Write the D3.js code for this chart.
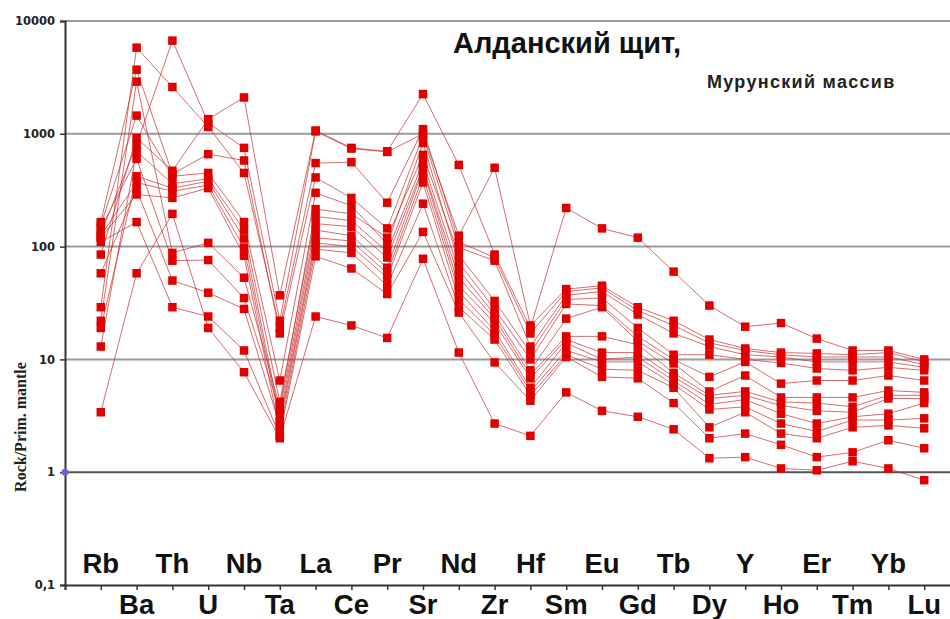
<!DOCTYPE html>
<html>
<head>
<meta charset="utf-8">
<script src="https://cdn.jsdelivr.net/npm/d3@7"></script>
<style>
  html, body { margin: 0; padding: 0; background: #fff; }
  svg { display: block; }
</style>
</head>
<body>
<svg id="chart" width="950" height="619"></svg>
<script>
// Elements in spider-diagram order
const elements = ["Rb","Ba","Th","U","Nb","Ta","La","Ce","Pr","Sr","Nd","Zr","Hf","Sm","Eu","Gd","Tb","Dy","Y","Ho","Er","Tm","Yb","Lu"];

// Primitive-mantle normalised concentrations, one array per sample
const sample01 = [85, 920, 470, 1350, 2100, 37, 1070, 750, 700, 2250, 530, 85, 19, 220, 145, 120, 60, 30, 19.5, 21, 15.3, 12, 12, 10];
const sample02 = [130, 800, 6700, 1250, 750, 22, 1050, 740, 690, 1000, 125, 500, 20, 42, 45, 29, 22, 15, 12.5, 11.5, 11.3, 11, 11.5, 9.5];
const sample03 = [29, 5800, 2600, 1150, 450, 19, 550, 560, 245, 1100, 110, 80, 17, 40, 43, 27, 20, 14, 12, 11, 10.5, 10.5, 10.5, 9];
const sample04 = [165, 3700, 440, 660, 580, 17, 410, 270, 145, 950, 98, 75, 13, 37, 40, 25, 17, 13, 11, 10.5, 9.5, 9.5, 9.5, 8.5];
const sample05 = [22, 2900, 88, 108, 53, 3.8, 215, 195, 120, 650, 84, 33, 11.5, 34, 35, 19, 11, 11, 10, 9.3, 8.3, 8, 8.5, 8];
const sample06 = [155, 1450, 420, 450, 165, 6.5, 300, 230, 105, 830, 72, 28, 10, 31, 30, 16, 10, 7, 9.5, 6.1, 6.5, 6.5, 7.2, 6.5];
const sample07 = [13, 700, 360, 400, 140, 4.2, 185, 170, 90, 560, 62, 25, 8, 23, 29, 14.5, 9.2, 5.2, 7.2, 4.6, 4.6, 4.6, 5.3, 5.1];
const sample08 = [145, 600, 75, 76, 35, 3.5, 160, 150, 80, 500, 53, 23, 7.3, 16, 16, 13.5, 7.6, 4.8, 5.2, 4.2, 4.1, 3.8, 4.8, 4.8];
const sample09 = [19, 420, 330, 380, 118, 3.1, 140, 125, 65, 480, 45, 21, 6.8, 15, 11.5, 11.5, 7, 4.5, 4.8, 3.9, 3.5, 3.4, 4.5, 4.5];
const sample10 = [125, 370, 310, 350, 98, 2.8, 120, 112, 58, 420, 40, 18, 5.6, 14, 10, 10.5, 6.5, 4.0, 4.4, 3.3, 2.7, 3.1, 3.3, 4.1];
const sample11 = [58, 320, 50, 39, 28, 2.6, 108, 100, 53, 370, 34, 16.5, 5.2, 12, 9.5, 9.5, 6, 3.6, 3.8, 2.7, 2.3, 2.9, 2.9, 3.0];
const sample12 = [120, 290, 270, 330, 83, 2.3, 95, 88, 45, 240, 29, 15, 4.8, 11, 8.2, 8, 5.6, 2.5, 3.4, 2.2, 2.0, 2.5, 2.6, 2.45];
const sample13 = [110, 165, 29, 24, 12, 2.1, 82, 64, 38, 135, 26, 9.4, 4.3, 10.5, 7, 6.8, 4.1, 2.0, 2.2, 1.75, 1.36, 1.5, 1.92, 1.63];
const sample14 = [3.4, 58, 195, 19, 7.7, 2.0, 24, 20, 15.5, 78, 11.5, 2.7, 2.1, 5.1, 3.5, 3.1, 2.4, 1.33, 1.36, 1.08, 1.04, 1.25, 1.08, 0.85];

const samples = [sample01, sample02, sample03, sample04, sample05, sample06, sample07,
                 sample08, sample09, sample10, sample11, sample12, sample13, sample14];

// Decade ticks of the logarithmic axis and their printed labels
const yTicks = [0.1, 1, 10, 100, 1000, 10000];
const yTickLabels = ["0,1", "1", "10", "100", "1000", "10000"];

// Reference level (primitive mantle = 1)
const referenceLevel = [1];

const title = "Алданский щит,";
const subtitle = "Мурунский массив";
const yTitle = "Rock/Prim. mantle";

// ---- layout ----
const W = 950, H = 619;
const plotLeft = 65, plotTop = 21, plotBottom = 585;
const step = 35.8;

const svg = d3.select("#chart");
svg.append("rect").attr("width", W).attr("height", H).attr("fill", "#fff");

const x = d3.scaleLinear().domain([0, elements.length + 1]).range([plotLeft, plotLeft + (elements.length + 1) * step]);
const y = d3.scaleLog().domain([0.1, 10000]).range([plotBottom, plotTop]);

// horizontal grid lines at each decade
svg.append("g")
  .selectAll("line")
  .data(yTicks.filter(v => v > 0.1))
  .join("line")
  .attr("x1", plotLeft).attr("x2", W)
  .attr("y1", d => y(d)).attr("y2", d => y(d))
  .attr("stroke", d => d === 1 ? "#555" : "#9a9a9a")
  .attr("stroke-width", 2);

// y axis
const yAxis = d3.axisLeft(y)
  .tickValues(yTicks)
  .tickFormat((d, i) => yTickLabels[i])
  .tickSize(5)
  .tickPadding(5);

const gy = svg.append("g").attr("transform", `translate(${plotLeft},0)`).call(yAxis);
gy.select(".domain").attr("stroke", "#333").attr("stroke-width", 2);
gy.selectAll(".tick line").attr("stroke", "#333").attr("stroke-width", 1.5);
gy.selectAll(".tick text")
  .attr("font-family", "'DejaVu Sans', Verdana, sans-serif")
  .attr("font-weight", "bold")
  .attr("font-size", 11.5)
  .attr("fill", "#222");

// x axis with a tick at every element position
const xAxis = d3.axisBottom(x)
  .tickValues(d3.range(0, elements.length + 1))
  .tickFormat("")
  .tickSize(5);

const gx = svg.append("g").attr("transform", `translate(0,${plotBottom})`).call(xAxis);
gx.select(".domain").attr("stroke", "#333").attr("stroke-width", 2);
gx.selectAll(".tick line").attr("stroke", "#333").attr("stroke-width", 1.5);

// element labels, alternating above and below the axis
svg.append("g")
  .selectAll("text")
  .data(elements)
  .join("text")
  .attr("x", (d, i) => x(i + 1))
  .attr("y", (d, i) => i % 2 === 0 ? 573 : 614)
  .attr("text-anchor", "middle")
  .attr("font-family", "'Liberation Sans', Arial, sans-serif")
  .attr("font-weight", "bold")
  .attr("font-size", 27.5)
  .attr("fill", "#111")
  .text(d => d);

// sample patterns
const line = d3.line()
  .x((d, i) => x(i + 1))
  .y(d => y(d));

const gLines = svg.append("g");
gLines.selectAll("path")
  .data(samples)
  .join("path")
  .attr("d", line)
  .attr("fill", "none")
  .attr("stroke", "#c83232")
  .attr("stroke-width", 0.9)
  .attr("stroke-opacity", 0.8);

const ms = 8.5;
const gPts = svg.append("g");
samples.forEach(s => {
  gPts.append("g")
    .selectAll("rect")
    .data(s)
    .join("rect")
    .attr("x", (d, i) => x(i + 1) - ms / 2)
    .attr("y", d => y(d) - ms / 2)
    .attr("width", ms)
    .attr("height", ms)
    .attr("fill", "#e00000");
});

// reference marker on the axis
svg.append("g")
  .selectAll("circle")
  .data(referenceLevel)
  .join("circle")
  .attr("cx", x(0))
  .attr("cy", d => y(d))
  .attr("r", 3.5)
  .attr("fill", "#6b63d9");

// titles
svg.append("text")
  .attr("x", 453).attr("y", 53)
  .attr("font-family", "'Liberation Sans', Arial, sans-serif")
  .attr("font-weight", "bold")
  .attr("font-size", 29)
  .attr("fill", "#111")
  .text(title);

svg.append("text")
  .attr("x", 707).attr("y", 88)
  .attr("font-family", "'Liberation Sans', Arial, sans-serif")
  .attr("font-weight", "bold")
  .attr("font-size", 18)
  .attr("letter-spacing", 1.3)
  .attr("fill", "#222")
  .text(subtitle);

svg.append("text")
  .attr("transform", "translate(26,427) rotate(-90)")
  .attr("text-anchor", "middle")
  .attr("font-family", "'Liberation Serif', 'Times New Roman', serif")
  .attr("font-weight", "bold")
  .attr("font-size", 16)
  .attr("fill", "#222")
  .text(yTitle);
</script>
</body>
</html>
